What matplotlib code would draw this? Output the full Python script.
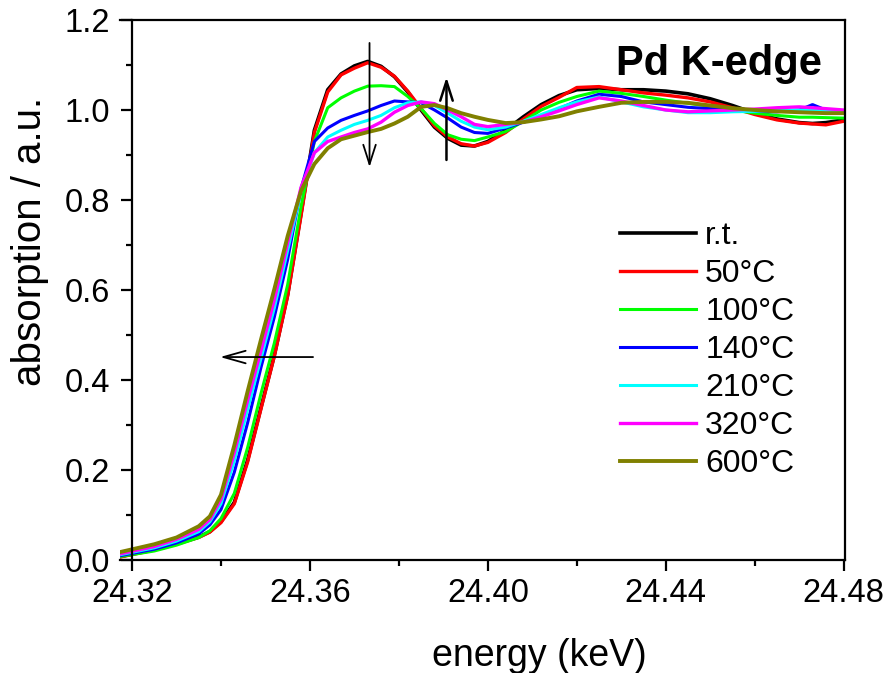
import matplotlib
matplotlib.use("Agg")
import matplotlib.pyplot as plt
from matplotlib.ticker import MultipleLocator, FormatStrFormatter

plt.rcParams['font.family'] = ['Liberation Sans', 'DejaVu Sans']

energy = [24.3175, 24.325, 24.330, 24.335, 24.3375, 24.340, 24.343, 24.346, 24.349, 24.352,
          24.355, 24.358, 24.361, 24.364, 24.367, 24.370, 24.373, 24.376, 24.379, 24.382,
          24.385, 24.388, 24.391, 24.394, 24.397, 24.400, 24.404, 24.408, 24.412, 24.416,
          24.420, 24.425, 24.430, 24.435, 24.440, 24.445, 24.450, 24.455, 24.460, 24.465,
          24.470, 24.473, 24.476, 24.480]

rt = [0.008, 0.023, 0.036, 0.051, 0.063, 0.085, 0.128, 0.222, 0.339, 0.455,
      0.590, 0.770, 0.955, 1.045, 1.080, 1.098, 1.108, 1.097, 1.074, 1.040,
      1.000, 0.962, 0.937, 0.922, 0.920, 0.930, 0.955, 0.985, 1.012, 1.032,
      1.045, 1.048, 1.045, 1.045, 1.042, 1.036, 1.025, 1.010, 0.993, 0.980,
      0.972, 0.970, 0.972, 0.978]

t50 = [0.007, 0.022, 0.035, 0.050, 0.062, 0.083, 0.125, 0.218, 0.336, 0.453,
       0.587, 0.765, 0.950, 1.040, 1.078, 1.093, 1.105, 1.095, 1.075, 1.042,
       1.003, 0.965, 0.940, 0.925, 0.920, 0.928, 0.950, 0.980, 1.008, 1.028,
       1.050, 1.052, 1.045, 1.038, 1.033, 1.027, 1.018, 1.005, 0.990, 0.978,
       0.971, 0.969, 0.967, 0.975]

t100 = [0.008, 0.020, 0.033, 0.050, 0.065, 0.092, 0.148, 0.250, 0.370, 0.482,
        0.612, 0.785, 0.930, 1.005, 1.027, 1.042, 1.053, 1.054, 1.052, 1.030,
        1.003, 0.970, 0.945, 0.935, 0.932, 0.940, 0.952, 0.975, 1.000, 1.017,
        1.030, 1.042, 1.037, 1.030, 1.022, 1.015, 1.008, 1.000, 0.993, 0.988,
        0.984, 0.984, 0.983, 0.982]

t140 = [0.010, 0.024, 0.038, 0.058, 0.078, 0.112, 0.195, 0.305, 0.428, 0.540,
        0.668, 0.825, 0.930, 0.960, 0.977, 0.988, 0.998, 1.010, 1.020, 1.018,
        1.016, 1.000, 0.982, 0.962, 0.950, 0.948, 0.960, 0.973, 0.985, 1.003,
        1.020, 1.035, 1.030, 1.018, 1.012, 1.006, 1.003, 1.000, 0.997, 0.996,
        1.000, 1.012, 1.000, 0.996]

t210 = [0.012, 0.027, 0.042, 0.063, 0.085, 0.125, 0.220, 0.335, 0.448, 0.560,
        0.688, 0.820, 0.905, 0.940, 0.955, 0.968, 0.977, 0.988, 1.005, 1.016,
        1.018, 1.010, 0.993, 0.975, 0.962, 0.956, 0.962, 0.975, 0.990, 1.005,
        1.018, 1.029, 1.018, 1.007, 1.000, 0.994, 0.994, 0.996, 0.997, 0.999,
        1.000, 1.000, 0.998, 0.996]

t320 = [0.014, 0.030, 0.046, 0.068, 0.090, 0.135, 0.238, 0.355, 0.465, 0.578,
        0.705, 0.828, 0.905, 0.930, 0.940, 0.950, 0.958, 0.973, 0.995, 1.010,
        1.018, 1.014, 1.000, 0.985, 0.968, 0.963, 0.968, 0.973, 0.985, 0.998,
        1.012, 1.027, 1.020, 1.010, 1.000, 0.996, 0.998, 1.000, 1.002, 1.005,
        1.007, 1.005, 1.003, 1.000]

t600 = [0.018, 0.035, 0.050, 0.075, 0.097, 0.145, 0.255, 0.375, 0.490, 0.602,
        0.720, 0.820, 0.880, 0.915, 0.935, 0.943, 0.951, 0.958, 0.970, 0.985,
        1.007, 1.011, 1.004, 0.993, 0.985, 0.978, 0.971, 0.973, 0.979, 0.986,
        0.997, 1.007, 1.016, 1.018, 1.018, 1.016, 1.010, 1.004, 1.000, 0.997,
        0.995, 0.994, 0.993, 0.993]

labels = ['r.t.', '50°C', '100°C', '140°C', '210°C', '320°C', '600°C']
series = [rt, t50, t100, t140, t210, t320, t600]
colors = ['#000000', '#ff0000', '#00ff00', '#0000ff', '#00ffff', '#ff00ff', '#808000']
widths = [2.6, 2.4, 2.2, 2.2, 2.2, 2.4, 2.8]

fig = plt.figure(figsize=(8.88, 6.73), dpi=100)
ax = fig.add_axes([120/888, 1 - 560/673, (845 - 120)/888, (560 - 20)/673])

for y, lab, c, w in zip(series, labels, colors, widths):
    ax.plot(energy, y, color=c, lw=w, label=lab)

ax.set_xlim(24.3173, 24.4803)
ax.set_ylim(0.0, 1.2)
ax.spines['left'].set_position(('data', 24.32))
for s in ax.spines.values():
    s.set_linewidth(1.6)

ax.xaxis.set_major_locator(MultipleLocator(0.04))
ax.xaxis.set_minor_locator(MultipleLocator(0.02))
ax.yaxis.set_major_locator(MultipleLocator(0.2))
ax.yaxis.set_minor_locator(MultipleLocator(0.1))
ax.xaxis.set_major_formatter(FormatStrFormatter('%.2f'))
ax.yaxis.set_major_formatter(FormatStrFormatter('%.1f'))
ax.tick_params(which='major', direction='out', length=8, width=1.6, labelsize=23.5)
ax.tick_params(axis='x', which='major', pad=5)
ax.tick_params(axis='y', which='major', pad=8)
ax.tick_params(which='minor', direction='out', length=4.5, width=1.6)
ax.tick_params(top=False, right=False, which='both')

ax.set_xlabel('energy (keV)', fontsize=27)
ax.set_ylabel('absorption / a.u.', fontsize=29)
ax.xaxis.set_label_coords(0.579, -0.145)
ax.yaxis.set_label_coords(-0.098, 0.59)

ax.text(0.968, 0.898, 'Pd K-edge', transform=ax.transAxes, ha='right', va='baseline',
        fontsize=30, fontweight='bold')

arrow_kw = dict(arrowstyle='->,head_length=1.4,head_width=0.45', color='black', lw=1.3,
                shrinkA=0, shrinkB=0)
ax.annotate('', xy=(24.3734, 0.873), xytext=(24.3734, 1.149), arrowprops=arrow_kw)
ax.annotate('', xy=(24.3907, 1.073), xytext=(24.3907, 0.889),
            arrowprops=dict(arrow_kw, lw=1.8))
ax.annotate('', xy=(24.3398, 0.451), xytext=(24.3607, 0.451),
            arrowprops=dict(arrow_kw, arrowstyle='->,head_length=1.6,head_width=0.45'))

leg = ax.legend(loc='upper left', bbox_to_anchor=(0.69, 0.628), frameon=False,
                fontsize=23, handlelength=2.38, handletextpad=0.28, labelspacing=0.25,
                borderaxespad=0, borderpad=0)

fig.savefig('out.png', dpi=100)
